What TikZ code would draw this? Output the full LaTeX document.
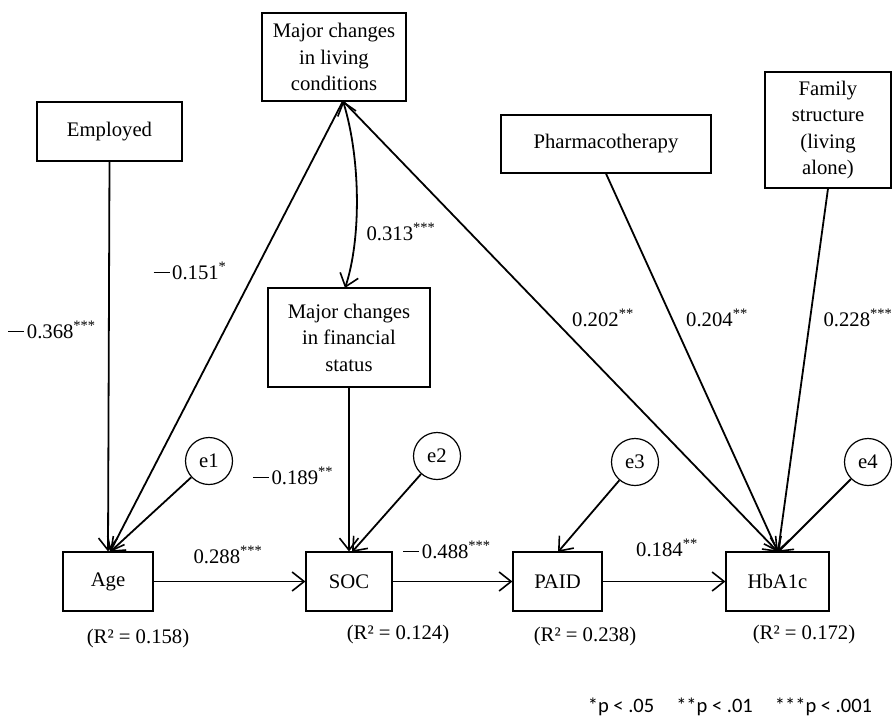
\documentclass[tikz,border=0pt]{standalone}
\usepackage{fontspec}
\setmainfont{Liberation Serif}
\newfontfamily\footfont{Carlito}
\usetikzlibrary{arrows.meta}
\newcommand\mn{\rule[0.3em]{0.78em}{0.055em}\hspace{0.12em}}
\tikzset{
  box/.style={draw, line width=1.2pt, inner sep=0pt, align=center,
    font=\fontsize{20.7}{26.5}\selectfont},
  err/.style={draw, circle, line width=1.2pt, inner sep=0pt, minimum size=47pt,
    font=\fontsize{20.7}{24}\selectfont},
  lab/.style={inner sep=0pt, font=\fontsize{20.7}{24}\selectfont},
  conn/.style={line width=1.8pt, -{Straight Barb[length=12pt,width=19pt,line width=1.6pt]}},
  both/.style={line width=1.8pt, {Straight Barb[length=12pt,width=19pt,line width=1.6pt]}-{Straight Barb[length=12pt,width=19pt,line width=1.6pt]}},
}
\begin{document}
\begin{tikzpicture}[x=1pt,y=-1pt]
\useasboundingbox (0,0) rectangle (892,716);
% boxes
\node[box, minimum width=144pt, minimum height=88pt] (living) at (334,57) {Major changes\\in living\\conditions};
\node[box, minimum width=145pt, minimum height=59pt] (employed) at (109.5,131.5) {Employed};
\node[box, minimum width=210pt, minimum height=58pt] (pharma) at (606,144) {Pharmacotherapy};
\node[box, minimum width=126pt, minimum height=116pt] (family) at (828,130) {Family\\structure\\(living\\alone)};
\node[box, minimum width=162pt, minimum height=99pt] (financial) at (349,337.5) {Major changes\\in financial\\status};
\node[box, minimum width=90pt, minimum height=59pt] (age) at (108,581.5) {Age};
\node[box, minimum width=86pt, minimum height=59pt] (soc) at (349,581.5) {SOC};
\node[box, minimum width=89pt, minimum height=59pt] (paid) at (557.5,581.5) {PAID};
\node[box, minimum width=103pt, minimum height=59pt] (hba) at (777.5,581.5) {HbA1c};
% error terms
\node[err] (e1) at (209,461) {e1};
\node[err] (e2) at (437,456) {e2};
\node[err] (e3) at (635,462) {e3};
\node[err] (e4) at (868,462) {e4};
% anchor points
\coordinate (j) at (343,101);
\coordinate (fin top) at (345,288);
\coordinate (age in) at (110,552);
\coordinate (soc in) at (352,552);
\coordinate (paid in) at (558,552);
\coordinate (hba in) at (778,552);
% connectors
\draw[conn] (employed.south) -- (age.north);
\draw[conn] (j) -- (age in);
\draw[conn] (e1) -- (age in);
\draw[both] (j) .. controls (361,160) and (361,240) .. (fin top);
\draw[conn] (j) -- (hba in);
\draw[conn] (pharma.south) -- (hba in);
\draw[conn] (family.south) -- (hba in);
\draw[conn] (e4) -- (hba in);
\draw[conn] (financial.south) -- (soc.north);
\draw[conn] (e2) -- (soc in);
\draw[conn] (e3) -- (paid in);
\draw[conn] (age.east) -- (soc.west);
\draw[conn] (soc.east) -- (paid.west);
\draw[conn] (paid.east) -- (hba.west);
% coefficient labels
\node[lab] (l1) at (52,330) {\mn0.368\textsuperscript{***}};
\node[lab] (l2) at (190,271) {\mn0.151\textsuperscript{*}};
\node[lab] (l3) at (401,232) {0.313\textsuperscript{***}};
\node[lab] (l4) at (293,476) {\mn0.189\textsuperscript{**}};
\node[lab] (l5) at (228,555) {0.288\textsuperscript{***}};
\node[lab] (l6) at (447,550) {\mn0.488\textsuperscript{***}};
\node[lab] (l7) at (667,548) {0.184\textsuperscript{**}};
\node[lab] (l8) at (603,318) {0.202\textsuperscript{**}};
\node[lab] (l9) at (717,318) {0.204\textsuperscript{**}};
\node[lab] (l10) at (858,318) {0.228\textsuperscript{***}};
% R2 labels
\node[lab] (r1) at (138,639) {(R² = 0.158)};
\node[lab] (r2) at (398,635) {(R² = 0.124)};
\node[lab] (r3) at (585,637) {(R² = 0.238)};
\node[lab] (r4) at (804,635) {(R² = 0.172)};
% footnote
\node[inner sep=0pt, font=\footfont\fontsize{20.5}{22}\selectfont] (note) at (730,707) {*p < .05\hspace{22pt}**p < .01\hspace{22pt}***p < .001};
\end{tikzpicture}
\end{document}
